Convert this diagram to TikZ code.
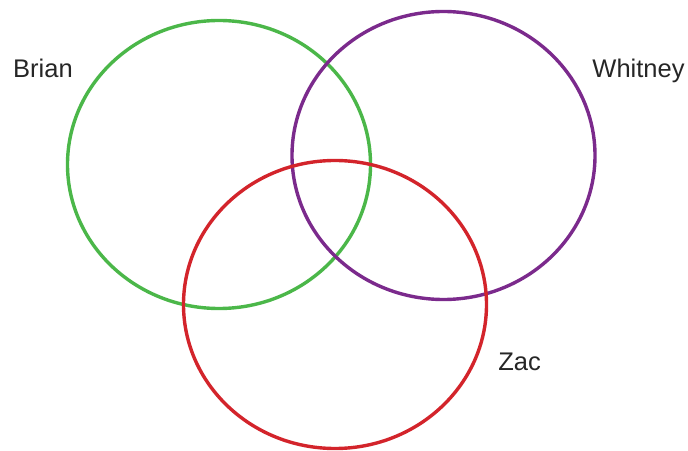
\documentclass[tikz,border=0pt]{standalone}
\usepackage{fontspec}
\setmainfont{Liberation Sans}
\usepackage{xcolor}
\usetikzlibrary{positioning}

\definecolor{briangreen}{HTML}{4BB749}
\definecolor{whitneypurple}{HTML}{7B2A8C}
\definecolor{zacred}{HTML}{D3242B}

\begin{document}
\begin{tikzpicture}[x=1pt,y=1pt,
    ring/.style={line width=3.4pt},
    setlabel/.style={anchor=base,inner sep=0pt,font=\fontsize{25.5}{30}\selectfont,text=black!85}]
  \useasboundingbox (0,0) rectangle (688,450);
  % the three sets
  \draw[ring,briangreen] (219,285.5) ellipse [x radius=151.5,y radius=144];
  \draw[ring,whitneypurple] (443.5,294.5) ellipse [x radius=151.5,y radius=144];
  \draw[ring,zacred] (335,145.5) ellipse [x radius=151.5,y radius=144];
  % labels
  \node[setlabel] (brian) at (43,372) {Brian};
  \node[setlabel] (whitney) at (638.5,372) {Whitney};
  \node[setlabel] (zac) at (519.5,80) {Zac};
\end{tikzpicture}
\end{document}
